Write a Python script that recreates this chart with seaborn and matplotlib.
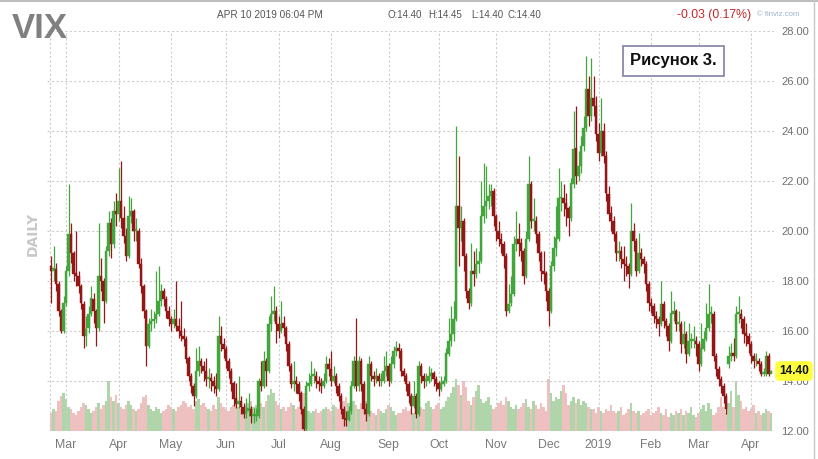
import numpy as np
import pandas as pd
import matplotlib
matplotlib.use("Agg")
import matplotlib.pyplot as plt
import seaborn as sns
from matplotlib import font_manager as fm
from matplotlib.lines import Line2D

# ---------------- data ----------------
close = [
    18.4, 18.5, 17.9, 16.8, 16.0, 17.1, 18.4, 19.9, 19.1, 18.3,
    18.2, 17.8, 17.1, 15.8, 16.1, 16.7, 17.3, 16.8, 16.1, 18.2,
    18.0, 17.2, 19.2, 20.3, 19.5, 20.8, 20.7, 21.2, 20.5, 19.8,
    19.0, 20.6, 20.8, 20.0, 20.0, 18.7, 17.8, 16.8, 15.4, 16.3,
    16.4, 16.5, 16.7, 17.2, 17.6, 17.3, 16.8, 16.5, 16.3, 16.5,
    16.2, 16.0, 15.8, 15.7, 14.9, 14.2, 13.8, 13.4, 14.4, 14.8,
    14.6, 14.4, 14.1, 14.1, 14.0, 13.8, 13.7, 15.8, 15.5, 15.3,
    14.8, 14.4, 13.9, 13.3, 13.1, 13.2, 12.95, 12.7, 12.8, 12.9,
    12.6, 12.6, 12.6, 14.0, 13.8, 14.8, 14.4, 16.3, 16.7, 16.8,
    16.3, 16.0, 16.3, 16.1, 15.5, 14.6, 13.9, 14.0, 13.9, 13.5,
    12.9, 12.1, 13.8, 13.9, 14.2, 14.2, 14.0, 13.9, 13.8, 14.0,
    14.7, 14.5, 14.0, 14.2, 13.8, 13.4, 12.9, 12.5, 12.45, 12.8,
    13.8, 14.8, 13.8, 14.8, 13.9, 12.9, 12.7, 14.7, 14.2, 14.1,
    14.2, 14.0, 14.0, 14.4, 14.6, 14.0, 14.7, 15.2, 15.3, 15.2,
    14.4, 14.2, 13.9, 13.4, 13.0, 13.4, 12.7, 14.6, 14.2, 14.0,
    14.0, 14.2, 14.3, 14.1, 13.9, 13.7, 13.9, 14.0, 15.1, 15.6,
    15.9, 16.5, 21.0, 20.1, 20.4, 19.0, 17.6, 17.1, 18.4, 18.3,
    18.7, 18.8, 20.6, 21.0, 21.2, 21.4, 21.6, 20.6, 20.0, 19.7,
    19.5, 19.0, 16.8, 17.1, 17.5, 19.5, 19.7, 19.5, 19.2, 18.2,
    19.7, 21.9, 20.4, 20.4, 19.9, 19.1, 18.4, 18.3, 17.6, 16.8,
    18.6, 19.3, 19.7, 21.3, 21.3, 21.1, 20.9, 20.5, 21.9, 23.3,
    22.2, 22.6, 23.4, 24.1, 25.7, 24.6, 25.3, 25.0, 23.9, 23.1,
    24.0, 23.0, 21.5, 20.7, 20.4, 19.9, 19.1, 19.2, 18.9, 18.7,
    18.6, 18.3, 20.0, 19.6, 18.4, 19.1, 18.9, 18.7, 17.9, 17.1,
    17.0, 16.6, 16.5, 16.3, 17.1, 16.4, 16.2, 15.6, 16.7, 16.8,
    16.3, 16.3, 15.5, 15.9, 15.1, 15.6, 15.6, 15.6, 15.5, 14.7,
    15.3, 15.7, 16.1, 16.7, 16.7, 15.0, 14.5, 14.1, 13.8, 13.4,
    12.9, 15.0, 15.1, 15.0, 16.7, 16.7, 16.5, 15.9, 15.8, 15.5,
    15.0, 14.8, 14.8, 14.7, 14.3, 14.3, 15.0, 14.3, 14.4,
]
high = [
    19.0, 19.4, 18.7, 18.0, 16.9, 17.4, 18.6, 21.9, 20.3, 19.2,
    20.0, 18.4, 17.9, 17.2, 16.6, 17.0, 17.8, 17.5, 16.9, 20.3,
    18.9, 18.1, 19.4, 20.8, 20.5, 21.2, 21.5, 22.5, 22.8, 21.0,
    20.1, 21.4, 21.3, 20.9, 20.5, 20.1, 18.9, 17.9, 16.9, 16.5,
    16.9, 16.8, 18.4, 18.6, 17.9, 17.7, 17.4, 17.0, 16.6, 16.9,
    18.0, 16.5, 17.2, 16.1, 15.8, 15.0, 14.3, 13.9, 15.3, 15.4,
    14.9, 14.8, 14.9, 14.5, 14.3, 14.2, 14.3, 16.6, 16.2, 15.7,
    15.4, 14.9, 14.5, 14.0, 13.9, 14.2, 13.4, 13.1, 13.3, 13.5,
    13.0, 12.9, 12.9, 14.1, 14.8, 15.2, 14.9, 16.6, 17.4, 17.8,
    17.0, 16.6, 17.2, 16.6, 16.2, 15.6, 14.7, 14.8, 14.2, 14.0,
    13.6, 13.0, 14.0, 14.3, 14.8, 14.5, 14.4, 14.2, 14.1, 14.3,
    15.0, 14.9, 15.2, 14.6, 14.3, 13.9, 13.5, 13.0, 12.8, 13.0,
    14.0, 15.0, 16.5, 15.0, 14.9, 14.0, 13.1, 15.0, 14.8, 14.4,
    14.5, 14.3, 14.3, 15.0, 15.2, 14.7, 15.0, 15.4, 15.6, 15.5,
    15.3, 14.5, 14.3, 14.0, 13.5, 14.0, 13.5, 14.8, 14.7, 14.3,
    14.3, 14.6, 14.5, 14.4, 14.2, 14.0, 14.2, 14.2, 15.3, 16.5,
    17.0, 17.2, 24.2, 23.0, 21.0, 20.5, 19.1, 17.7, 19.5, 19.2,
    19.3, 19.2, 22.0, 22.7, 22.6, 21.9, 21.9, 21.7, 20.7, 20.4,
    19.9, 19.6, 19.1, 17.9, 18.2, 19.8, 20.8, 20.3, 19.7, 19.3,
    20.0, 23.0, 22.0, 21.3, 20.6, 20.0, 19.2, 19.2, 18.4, 17.7,
    18.8, 19.8, 21.0, 22.5, 22.0, 21.9, 21.5, 21.0, 22.1, 24.8,
    25.0, 23.2, 23.8, 24.6, 27.0, 26.2, 26.9, 26.2, 25.4, 24.3,
    25.3, 24.3, 23.2, 21.8, 21.0, 20.6, 20.0, 19.6, 19.4, 19.4,
    19.0, 18.7, 21.1, 20.3, 19.7, 19.9, 19.3, 19.0, 18.8, 18.0,
    17.3, 17.1, 16.8, 16.6, 18.0, 17.2, 16.5, 16.3, 17.6, 17.2,
    16.9, 16.8, 16.4, 16.4, 16.0, 16.3, 15.9, 16.2, 15.8, 15.6,
    16.3, 16.0, 17.1, 17.9, 17.0, 16.8, 15.1, 14.6, 14.2, 13.9,
    13.5, 15.4, 15.5, 15.7, 17.0, 17.4, 16.9, 16.6, 16.3, 15.9,
    15.6, 15.1, 15.1, 14.9, 14.8, 14.5, 15.2, 15.1, 14.45,
]
low = [
    17.1, 18.0, 17.6, 16.6, 15.9, 15.9, 17.0, 18.2, 18.7, 18.0,
    17.8, 17.5, 16.9, 15.3, 15.4, 15.9, 16.6, 16.3, 15.4, 16.0,
    17.6, 16.3, 17.1, 19.0, 18.9, 19.3, 20.2, 20.4, 20.1, 19.5,
    18.8, 18.9, 20.3, 19.6, 19.6, 18.5, 17.5, 16.5, 14.6, 15.3,
    16.0, 16.1, 16.3, 16.6, 17.0, 17.0, 16.5, 16.2, 16.0, 16.1,
    16.0, 15.7, 15.6, 15.4, 14.7, 14.0, 13.5, 13.0, 13.3, 14.2,
    14.3, 14.0, 13.8, 13.7, 13.6, 13.5, 13.4, 13.6, 15.2, 14.9,
    14.5, 14.1, 13.6, 13.0, 12.9, 12.9, 12.7, 12.5, 12.5, 12.6,
    12.3, 12.3, 12.4, 12.5, 13.6, 13.7, 13.8, 14.3, 16.0, 16.4,
    15.5, 15.7, 15.9, 15.8, 15.2, 14.4, 13.7, 13.6, 13.5, 13.2,
    12.7, 11.9, 12.0, 13.6, 13.8, 13.9, 13.7, 13.6, 13.5, 13.7,
    13.9, 14.2, 13.8, 13.9, 13.5, 13.2, 12.7, 12.2, 12.2, 12.4,
    12.7, 13.7, 13.6, 13.6, 13.6, 12.7, 12.4, 12.6, 14.0, 13.8,
    13.9, 13.8, 13.8, 13.9, 14.2, 13.8, 13.9, 14.5, 15.0, 14.9,
    14.2, 14.0, 13.6, 13.1, 12.7, 12.9, 12.5, 12.6, 13.9, 13.7,
    13.8, 13.9, 14.0, 13.8, 13.6, 13.4, 13.6, 13.8, 13.9, 15.0,
    15.4, 15.6, 16.4, 18.6, 19.6, 18.4, 17.3, 16.9, 17.0, 17.8,
    18.1, 18.3, 18.7, 20.3, 20.5, 20.9, 21.0, 20.2, 19.6, 19.4,
    19.1, 18.5, 16.6, 16.7, 17.0, 17.4, 19.2, 19.0, 18.8, 17.9,
    18.1, 19.6, 20.1, 20.0, 19.5, 18.8, 18.0, 17.9, 17.2, 16.2,
    16.7, 18.4, 19.0, 19.6, 20.8, 20.6, 20.2, 19.8, 20.4, 21.7,
    21.9, 22.0, 22.3, 23.2, 24.0, 24.2, 24.4, 24.6, 23.6, 22.8,
    23.0, 22.7, 21.2, 20.4, 20.0, 19.6, 18.8, 18.8, 18.5, 18.0,
    18.2, 17.7, 18.2, 19.2, 18.2, 18.3, 18.6, 18.3, 17.6, 16.8,
    16.7, 16.3, 16.1, 15.8, 16.2, 16.1, 15.8, 15.2, 15.5, 16.4,
    16.0, 16.0, 15.1, 15.3, 14.7, 15.0, 15.3, 15.3, 15.0, 14.4,
    14.6, 15.2, 15.6, 16.0, 16.3, 14.8, 14.2, 13.8, 13.5, 13.1,
    12.7, 14.5, 14.8, 14.8, 14.9, 16.3, 16.1, 15.5, 15.4, 15.1,
    14.7, 14.5, 14.6, 14.4, 14.2, 14.2, 14.2, 14.2, 14.3,
]
volume = [
    18, 22, 20, 30, 35, 38, 32, 24, 22, 18, 16, 20, 24, 28, 26, 22, 18, 20, 24, 28,
    22, 26, 30, 50, 34, 30, 36, 28, 24, 22, 26, 30, 26, 22, 20, 22, 28, 34, 36, 26,
    22, 20, 24, 22, 18, 20, 22, 26, 24, 22, 20, 24, 26, 30, 28, 24, 26, 22, 30, 32,
    26, 28, 24, 22, 20, 26, 22, 34, 28, 24, 22, 20, 24, 26, 30, 24, 22, 20, 26, 28,
    30, 24, 26, 22, 28, 24, 30, 36, 42, 38, 30, 26, 22, 24, 20, 24, 28, 26, 22, 24,
    26, 38, 28, 20, 18, 20, 22, 18, 20, 22, 24, 22, 20, 26, 24, 22, 26, 30, 34, 28,
    24, 30, 26, 22, 28, 32, 30, 26, 20, 18, 16, 22, 20, 18, 22, 26, 24, 20, 16, 18,
    18, 22, 24, 20, 22, 18, 20, 26, 24, 22, 28, 30, 24, 22, 26, 28, 22, 24, 30, 34,
    38, 44, 52, 46, 36, 50, 44, 30, 26, 34, 40, 46, 32, 28, 30, 34, 26, 22, 24, 28,
    30, 26, 34, 30, 24, 22, 26, 22, 24, 28, 32, 24, 22, 30, 26, 22, 28, 24, 20, 52,
    38, 30, 34, 32, 40, 46, 38, 26, 30, 34, 28, 32, 26, 30, 28, 24, 22, 22, 18, 24,
    20, 18, 22, 20, 26, 20, 18, 20, 24, 16, 18, 22, 28, 20, 18, 20, 16, 18, 20, 22,
    16, 18, 20, 24, 18, 16, 22, 14, 18, 16, 20, 18, 22, 16, 20, 18, 24, 16, 14, 18,
    22, 26, 20, 28, 22, 16, 18, 24, 34, 24, 18, 28, 40, 24, 50, 36, 30, 22, 24, 20,
    22, 26, 18, 20, 16, 18, 22, 20, 18,
]
first_open = 18.6
open_gaps = {271: 14.7}          # futures-roll gap: opens away from prior close
month_pos = [6, 27, 48, 70, 91, 112, 135, 155, 178, 199, 219, 240, 259, 280]
month_labels = ["Mar", "Apr", "May", "Jun", "Jul", "Aug", "Sep", "Oct",
                "Nov", "Dec", "2019", "Feb", "Mar", "Apr"]
price_ticks = [12, 14, 16, 18, 20, 22, 24, 26, 28]
last_price = "14.40"

# ---------------- build frame ----------------
n = min(len(close), len(high), len(low), len(volume))
df = pd.DataFrame({"idx": np.arange(n), "close": close[:n], "high": high[:n],
                   "low": low[:n], "vol": volume[:n]})
df["open"] = df["close"].shift(1).fillna(first_open)
for k, v in open_gaps.items():
    if k < n:
        df.loc[k, "open"] = v
df["dir"] = np.where(df["close"] >= df["open"], "up", "down")

# ---------------- style ----------------
sns.set_theme(style="white")
names = {f.name for f in fm.fontManager.ttflist}
BASE = "Liberation Sans" if "Liberation Sans" in names else "DejaVu Sans"
plt.rcParams["font.family"] = [BASE, "DejaVu Sans"]

UP, DOWN = "#43a63c", "#941717"
VUP, VDOWN = "#acdca4", "#f6b8b8"
GRID = "#cdcdcd"

W, H = 818, 459
fig = plt.figure(figsize=(W / 100, H / 100), dpi=100)
ax = fig.add_axes([47 / W, (H - 431) / H, 727 / W, 400 / H])
ax2 = ax.twinx()

# volume (background)
sns.barplot(data=df, x="idx", y="vol", hue="dir", palette={"up": VUP, "down": VDOWN},
            native_scale=True, dodge=False, width=0.9, linewidth=0, errorbar=None,
            legend=False, ax=ax2)
ax2.set_ylim(0, 400)
ax2.set_yticks([])
ax2.set_ylabel("")
ax2.set_xlabel("")
for s in ax2.spines.values():
    s.set_visible(False)

ax.set_zorder(ax2.get_zorder() + 1)
ax.patch.set_visible(False)

# grid
for t in price_ticks:
    ax.axhline(t, color=GRID, lw=0.8, ls=(0, (2, 2)), zorder=0)
for p in month_pos:
    ax.axvline(p, color=GRID, lw=0.8, ls=(0, (2, 2)), zorder=0)
ax.axvline(-0.4, color=GRID, lw=0.8, ls=(0, (2, 2)), zorder=0)

# candles
cols = np.where(df["dir"] == "up", UP, DOWN)
ax.vlines(df["idx"], df["low"], df["high"], colors=cols, lw=0.9, zorder=3)
body_lo = np.minimum(df["open"], df["close"])
body_h = np.maximum(np.abs(df["close"] - df["open"]), 0.07)
ax.bar(df["idx"], body_h, bottom=body_lo, width=0.9, color=cols,
       edgecolor=cols, linewidth=0.3, zorder=4)

ax.set_xlim(-1.6, 289.2)
ax2.set_xlim(-1.6, 289.2)
ax.set_ylim(12, 28)
ax.yaxis.tick_right()
ax.set_yticks(price_ticks)
ax.set_yticklabels([f"{t:.2f}" for t in price_ticks])
ax.set_xticks(month_pos)
ax.set_xticklabels(month_labels)
ax.tick_params(axis="y", length=0, pad=5, labelsize=8, labelcolor="#707070")
ax.tick_params(axis="x", length=0, pad=6, labelsize=8.8, labelcolor="#7a7a7a")
for s in ax.spines.values():
    s.set_visible(False)


def px(x, y):
    return x / W, 1 - y / H


# header
fig.text(*px(12, 29), "VIX", fontsize=25, fontweight="bold", color="#808080",
         va="center", ha="left")
fig.text(*px(217, 15), "APR 10 2019 06:04 PM", fontsize=7.2, color="#555555",
         va="center", ha="left")
for x0, s in [(387, "O:14.40"), (428, "H:14.45"), (471, "L:14.40"), (508, "C:14.40")]:
    fig.text(*px(x0, 15), s, fontsize=7, color="#555555", va="center", ha="left")
fig.text(*px(677, 15), "-0.03 (0.17%)", fontsize=8.8, color="#c62828",
         va="center", ha="left")
fig.text(*px(757, 15), "© finviz.com", fontsize=5.6, color="#9fb3cc",
         va="center", ha="left")
fig.text(*px(33, 234), "DAILY", fontsize=10, fontweight="bold", color="#c8c8c8",
         rotation=90, va="center", ha="center", family=["DejaVu Sans"])

# annotation box
fig.text(*px(673.5, 61), "Рисунок 3.", fontsize=12, fontweight="bold", color="#111111",
         va="center", ha="center",
         bbox=dict(boxstyle="square,pad=0.45", fc="white", ec="#8a8aaa", lw=1.3),
         zorder=10)

# last price tag
fig.text(*px(794, 371), last_price, fontsize=8.6, fontweight="bold", color="#111111",
         va="center", ha="center",
         bbox=dict(boxstyle="round,pad=0.32,rounding_size=0.35", fc="#ffff3c", ec="none"),
         zorder=10)

# frame lines
fig.add_artist(Line2D([0, 1], [1 - 1 / H, 1 - 1 / H], color="#b0b0b0", lw=1.2))
fig.add_artist(Line2D([814 / W, 814 / W], [0, 1], color="#c8c8c8", lw=1.0))

fig.savefig("out.png", dpi=100)
